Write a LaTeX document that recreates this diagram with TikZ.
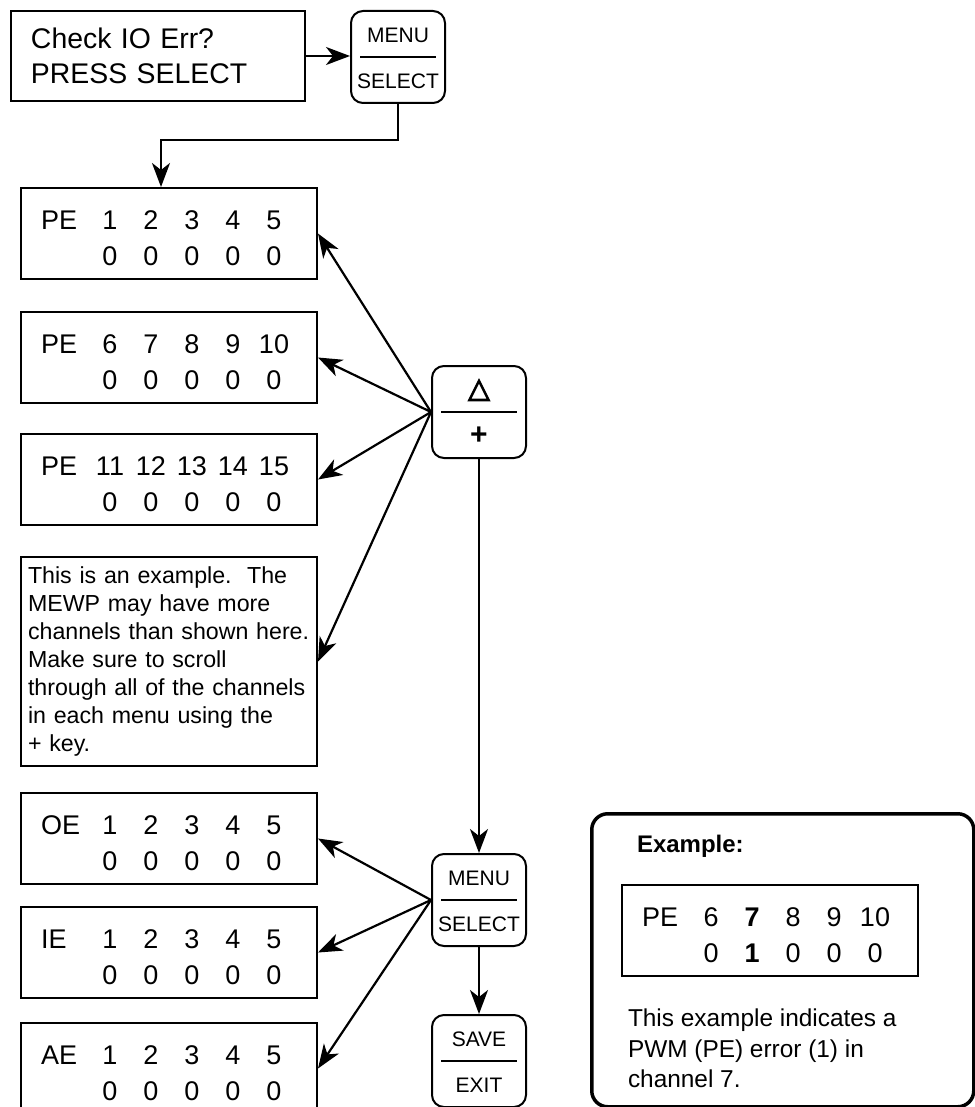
\documentclass[tikz,border=0pt]{standalone}
\usepackage{fontspec}
\setmainfont{Liberation Sans}
\newfontfamily\symfont[FakeBold=4]{DejaVu Sans}
\usetikzlibrary{arrows.meta,calc}
\newcommand{\lcdbox}[5]{%
  \node[lcd,anchor=north west] (#1) at (#2) {};
  \node[digit,anchor=base west] (#1-l) at ($(#1.north west)+(20,42)$) {#3};
  \foreach \d [count=\k] in {#4}
    \node[digit,anchor=base] (#1-a\k) at ($(#1.north west)+(49+41*\k,42)$) {\d};
  \foreach \d [count=\k] in {#5}
    \node[digit,anchor=base] (#1-b\k) at ($(#1.north west)+(49+41*\k,78)$) {\d};}
\newcommand{\keycap}[4]{%
  \node[key,anchor=north west] (#1) at (#2) {};
  \draw ($(#1.west)+(10,0)$) -- ($(#1.east)+(-10,0)$);
  \node[keytxt] (#1-t) at ($(#1.center)+(0,-22)$) {#3};
  \node[keytxt] (#1-b) at ($(#1.center)+(0,24)$) {#4};}

\begin{document}
\begin{tikzpicture}[>=Stealth,x=0.5pt,y=-0.5pt,line width=1pt,
  lcd/.style={draw,minimum width=148pt,minimum height=45.5pt,inner sep=0pt},
  digit/.style={inner sep=0pt,font=\fontsize{13.5}{16}\selectfont},
  key/.style={draw,rounded corners=6pt,minimum width=47pt,minimum height=46pt,inner sep=0pt},
  keytxt/.style={inner sep=0pt,font=\fontsize{10.5}{12}\selectfont},
  arr/.style={-{Stealth[length=12pt,width=9pt,inset=3.5pt]},line width=1.1pt},
  frame/.style={draw,line width=1.75pt,rounded corners=8pt,minimum width=191pt,minimum height=146.5pt,inner sep=0pt}]
\useasboundingbox (0,0) rectangle (974,1107);

\node[lcd,anchor=north west,minimum width=147pt,minimum height=45pt,align=left,
  text width=127pt,inner xsep=10pt,font=\fontsize{14.2}{17.5}\selectfont] (chk) at (10,10)
  {Check IO Err?\\PRESS SELECT};
\keycap{sel1}{350,10}{MENU}{SELECT}
\draw[arr] (chk.east) -- (chk.east -| sel1.west);

\lcdbox{pe1}{20,187}{PE}{1,2,3,4,5}{0,0,0,0,0}
\lcdbox{pe2}{20,311}{PE}{6,7,8,9,10}{0,0,0,0,0}
\lcdbox{pe3}{20,433}{PE}{11,12,13,14,15}{0,0,0,0,0}
\node[lcd,anchor=north west,minimum height=104.5pt,align=left,text width=141pt,inner xsep=3.5pt,
  font=\fontsize{11.6}{14}\selectfont] (note) at (20,556)
  {This is an example.\ \ The\\MEWP may have more\\channels than shown here.\\Make sure to scroll\\through all of the channels\\in each menu using the\\+ key.};
\lcdbox{oe}{20,792}{OE}{1,2,3,4,5}{0,0,0,0,0}
\lcdbox{ie}{20,906}{IE}{1,2,3,4,5}{0,0,0,0,0}
\lcdbox{ae}{20,1022}{AE}{1,2,3,4,5}{0,0,0,0,0}

\coordinate (drop) at ($(pe1.north west)+(141,0)$);
\draw[arr] (sel1.south) -- ++(0,36) -| (drop);

\keycap{updn}{431,365}{{\symfont\fontsize{14}{16}\selectfont △}}{{\bfseries\fontsize{15}{16}\selectfont +}}
\keycap{sel2}{431,853}{MENU}{SELECT}
\keycap{save}{431,1014}{SAVE}{EXIT}

\foreach \t in {pe1,pe2,pe3,note}
  \draw[arr] (updn.west) -- (\t.east);
\foreach \t in {oe,ie,ae}
  \draw[arr] (sel2.west) -- (\t.east);
\draw[arr] (updn.south) -- (sel2.north);
\draw[arr] (sel2.south) -- (save.north);

\node[frame,anchor=north west] (exfr) at (590,812) {};
\node[anchor=base west,inner sep=0pt,font=\bfseries\fontsize{12}{14}\selectfont] (extitle) at (636,852) {Example:};
\lcdbox{exlcd}{621,884}{PE}{6,\textbf{7},8,9,10}{0,\textbf{1},0,0,0}
\node[anchor=north west,inner sep=0pt,align=left,font=\fontsize{12.2}{15.25}\selectfont] (extxt) at (627,1008)
  {This example indicates a\\PWM (PE) error (1) in\\channel 7.};
\end{tikzpicture}
\end{document}
